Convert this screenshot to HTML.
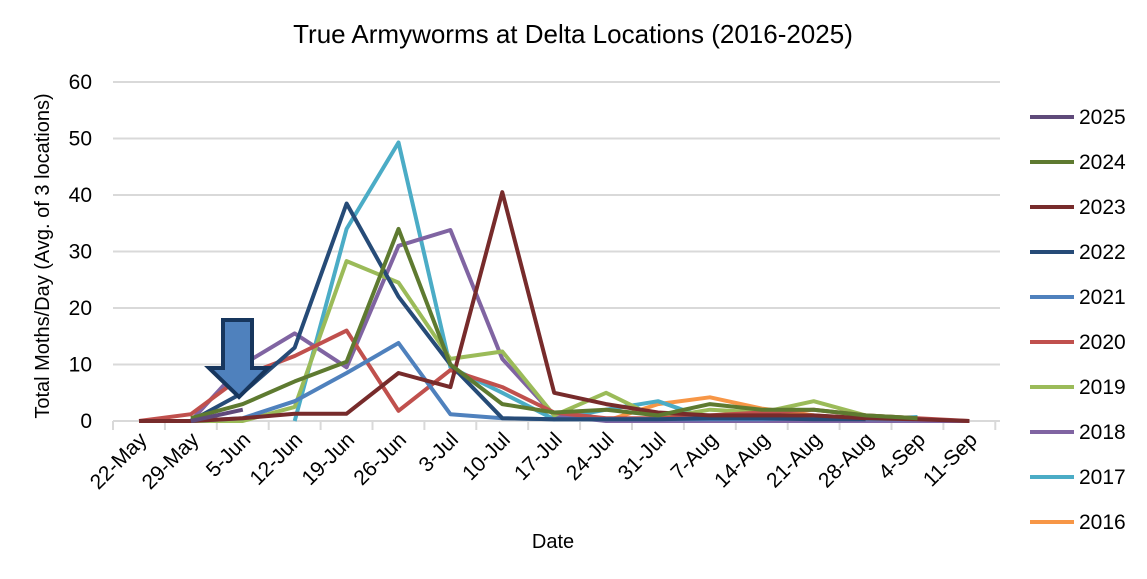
<!DOCTYPE html>
<html><head><meta charset="utf-8"><style>
html,body{margin:0;padding:0;background:#fff;}
svg{display:block;font-family:"Liberation Sans",sans-serif;}
</style></head><body>
<svg id="s" width="1147" height="579" xmlns="http://www.w3.org/2000/svg">
<rect width="1147" height="579" fill="#fff"/>
<text x="573" y="43" font-size="26" text-anchor="middle" fill="#000">True Armyworms at Delta Locations (2016-2025)</text>
<g id="grid" stroke="#d9d9d9" stroke-width="2"></g>
<g id="ylab" font-size="21" text-anchor="end" fill="#000"></g>
<g id="xlab" font-size="21" text-anchor="end" fill="#000"></g>
<text transform="translate(49,256) rotate(-90)" font-size="20" text-anchor="middle">Total Moths/Day (Avg. of 3 locations)</text>
<text x="553" y="548" font-size="20" text-anchor="middle">Date</text>
<g id="series" fill="none" stroke-width="4" stroke-linejoin="round"></g>
<polygon points="223,320 252,320 252,368 268,368 239,397 209,368 223,368" fill="#4F81BD" stroke="#17365D" stroke-width="4" stroke-linejoin="miter"/>
<g id="legend" font-size="21"></g>
</svg>
<script>
var ns="http://www.w3.org/2000/svg";
function el(p,t,a,txt){var e=document.createElementNS(ns,t);for(var k in a)e.setAttribute(k,a[k]);if(txt!=null)e.textContent=txt;document.getElementById(p).appendChild(e);return e;}
var y0=421,py=5.65,x0=139,dx=51.9;
for(var i=0;i<=6;i++){var y=y0-i*10*py;el("grid","line",{x1:113,x2:1000,y1:y,y2:y});el("ylab","text",{x:92,y:y+7},String(i*10));}
for(var k=0;k<=17;k++){var x=113+k*dx;el("grid","line",{x1:x,x2:x,y1:421,y2:430});}
var labs=["22-May","29-May","5-Jun","12-Jun","19-Jun","26-Jun","3-Jul","10-Jul","17-Jul","24-Jul","31-Jul","7-Aug","14-Aug","21-Aug","28-Aug","4-Sep","11-Sep"];
labs.forEach(function(l,k){var x=x0+k*dx+9,y=441;el("xlab","text",{transform:"translate("+x+","+y+") rotate(-45)"},l);});
var S=[
["2016","#F79646",9,[0,3,4.2,2.2,1,0.3,0.3]],
["2017","#4BACC6",3,[0,34,49.3,9.5,5,0.3,2,3.5,0.3,0.3,0.3,0.3,0.7]],
["2018","#8064A2",1,[0,10,15.5,9.5,31,33.8,11,1,0,0,0,0,0,0,0,0]],
["2019","#9BBB59",1,[0,0,2.5,28.3,24.5,11,12.3,1,5,0.5,2,1.5,3.5,1,0.5]],
["2020","#C0504D",0,[0,1.2,8,11.5,16,1.8,9,6,1.5,0.5,0.5,1,1.5,2,1,0.5,0]],
["2021","#4F81BD",1,[0,0.5,3.5,8.5,13.8,1.2,0.5,0.3,0.3,0.3,0.3,0.3,0.5,0.3,0.3]],
["2022","#264B77",1,[0,5,13,38.5,22,10,0.5,0.3,0.3,0.3,0.5,0.5,0.3,0.3]],
["2023","#772B2B",0,[0,0,0.5,1.3,1.3,8.5,6,40.5,5,3,1.5,1,1,1,0.5,0.3,0]],
["2024","#5E7A30",1,[0.5,3,7,10.5,34,10,3,1.5,2,1,3,2,2,1,0.5]],
["2025","#5F4A7A",1,[0,2]]
];
S.forEach(function(s){var pts=s[3].map(function(v,i){return (x0+(s[2]+i)*dx).toFixed(1)+","+(y0-v*py).toFixed(1);}).join(" ");el("series","polyline",{points:pts,stroke:s[1]});});
S.slice().reverse().forEach(function(s,i){var y=117+i*45;el("legend","line",{x1:1030,x2:1074,y1:y,y2:y,stroke:s[1],"stroke-width":4});el("legend","text",{x:1079,y:y+7},s[0]);});
</script>
</body></html>
